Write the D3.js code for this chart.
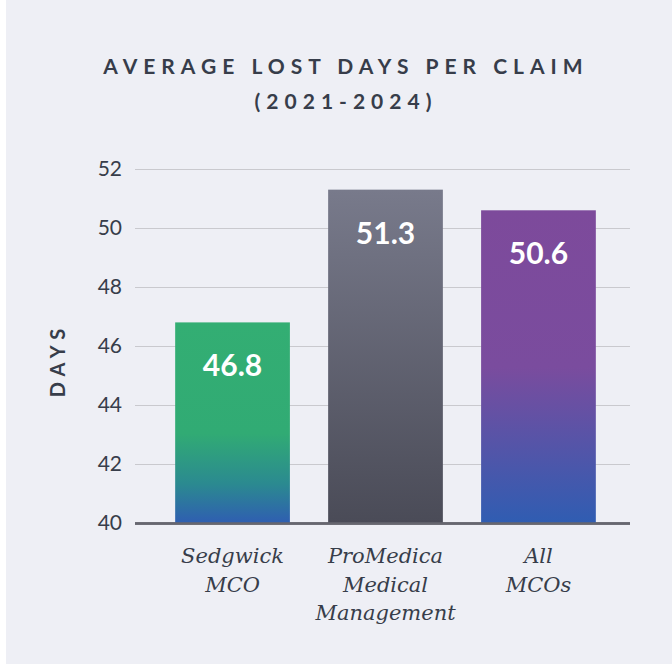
<!DOCTYPE html>
<html>
<head>
<meta charset="utf-8">
<script src="https://cdn.jsdelivr.net/npm/d3@7"></script>
<style>
  html, body { margin: 0; padding: 0; background: #fff; }
  svg { display: block; }
</style>
</head>
<body>
<div id="chart"></div>
<script>
const categories = [['Sedgwick', 'MCO'], ['ProMedica', 'Medical', 'Management'], ['All', 'MCOs']];
const values = [46.8, 51.3, 50.6];
const yTicks = [40, 42, 44, 46, 48, 50, 52];
const titleLines = ['AVERAGE LOST DAYS PER CLAIM', '(2021-2024)'];

// gradient stops per bar: [offset, colour]
const gradients = [
  [[0, '#33ae73'], [0.55, '#31ab74'], [0.8, '#2b8a90'], [1, '#2f5db2']],
  [[0, '#787a8b'], [1, '#4a4b57']],
  [[0, '#7d4a9b'], [0.5, '#7a4c9e'], [1, '#2f5db2']]
];

const W = 672, H = 664;
const ink = '#373d4a';

const svg = d3.select('#chart').append('svg')
  .attr('width', W)
  .attr('height', H);

svg.append('rect')
  .attr('x', 6).attr('y', 0)
  .attr('width', W - 6).attr('height', H)
  .attr('fill', '#eeeff5');

const defs = svg.append('defs');
gradients.forEach((stops, i) => {
  const g = defs.append('linearGradient')
    .attr('id', 'grad' + i)
    .attr('x1', 0).attr('y1', 0).attr('x2', 0).attr('y2', 1);
  stops.forEach(s => g.append('stop').attr('offset', s[0]).attr('stop-color', s[1]));
});

const gridLeft = 135, gridRight = 630;

const yScale = d3.scaleLinear()
  .domain([40, 52])
  .range([523, 169]);

const xScale = d3.scaleBand()
  .domain(d3.range(categories.length))
  .range([138, 633])
  .paddingInner(0.25)
  .paddingOuter(0.243);

// title
svg.append('g').selectAll('text')
  .data(titleLines)
  .join('text')
    .attr('x', 346)
    .attr('y', (d, i) => 74 + i * 35)
    .attr('text-anchor', 'middle')
    .attr('font-family', 'Lato, sans-serif')
    .attr('font-weight', 700)
    .attr('font-size', 21)
    .attr('letter-spacing', 6)
    .attr('fill', ink)
    .text(d => d);

// grid + tick labels
const yAxis = svg.append('g')
  .attr('transform', `translate(${gridLeft},0)`)
  .call(d3.axisLeft(yScale).tickValues(yTicks).tickSize(-(gridRight - gridLeft)).tickPadding(13));
yAxis.select('.domain').remove();
yAxis.selectAll('.tick line')
  .attr('stroke', d => d === 40 ? '#66666f' : '#c9c9ce')
  .attr('stroke-width', d => d === 40 ? 2.5 : 1.2);
yAxis.selectAll('.tick text')
  .attr('font-family', 'Lato, sans-serif')
  .attr('font-size', 21)
  .attr('fill', ink);

svg.append('text')
  .attr('transform', 'translate(65,360) rotate(-90)')
  .attr('text-anchor', 'middle')
  .attr('font-family', 'Lato, sans-serif')
  .attr('font-weight', 700)
  .attr('font-size', 20)
  .attr('letter-spacing', 6)
  .attr('fill', ink)
  .text('DAYS');

// bars
svg.append('g').selectAll('rect')
  .data(values)
  .join('rect')
    .attr('x', (d, i) => xScale(i))
    .attr('y', d => yScale(d))
    .attr('width', xScale.bandwidth())
    .attr('height', d => yScale(40) - yScale(d) + 1)
    .attr('fill', (d, i) => `url(#grad${i})`);

// redraw baseline on top of bars
svg.append('line')
  .attr('x1', gridLeft).attr('x2', gridRight)
  .attr('y1', yScale(40) + 0.5).attr('y2', yScale(40) + 0.5)
  .attr('stroke', '#66666f')
  .attr('stroke-width', 2.5);

// value labels
svg.append('g').selectAll('text')
  .data(values)
  .join('text')
    .attr('x', (d, i) => xScale(i) + xScale.bandwidth() / 2)
    .attr('y', d => yScale(d) + 54)
    .attr('text-anchor', 'middle')
    .attr('font-family', 'Lato, sans-serif')
    .attr('font-weight', 700)
    .attr('font-size', 30)
    .attr('fill', '#fff')
    .text(d => d.toFixed(1));

// category labels
const cat = svg.append('g').selectAll('text')
  .data(categories)
  .join('text')
    .attr('x', (d, i) => xScale(i) + xScale.bandwidth() / 2)
    .attr('y', 563)
    .attr('text-anchor', 'middle')
    .attr('font-family', '"DejaVu Serif", serif')
    .attr('font-style', 'italic')
    .attr('font-size', 21)
    .attr('fill', ink);
cat.selectAll('tspan')
  .data(d => d)
  .join('tspan')
    .attr('x', function() { return d3.select(this.parentNode).attr('x'); })
    .attr('dy', (d, i) => i === 0 ? 0 : 28.5)
    .text(d => d);
</script>
</body>
</html>
